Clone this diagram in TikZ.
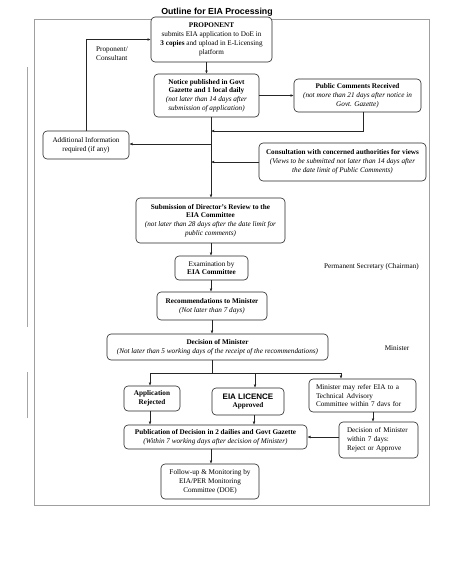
\documentclass[tikz,border=0pt]{standalone}
\usepackage{fontspec}
\setmainfont{Liberation Serif}
\newfontfamily\hsans{Liberation Sans}
\usetikzlibrary{arrows.meta}
\newcommand\eiafs{\fontsize{7.2}{8.8}\selectfont}
\tikzset{
  box/.style={draw=black!85, line width=0.6pt, rounded corners=4pt, fill=white,
    inner sep=0pt, align=center, font=\eiafs},
  arr/.style={-{Latex[length=3.2pt,width=2.8pt]}, line width=0.6pt, draw=black!85},
  ln/.style={line width=0.6pt, draw=black!85},
  lbl/.style={inner sep=0pt, font=\eiafs, align=left}
}
\begin{document}
\begin{tikzpicture}[x=1pt,y=-1pt]
\useasboundingbox (0,0) rectangle (451,584);
% frame and stray scan lines
\draw[gray!75, line width=0.9pt] (34,19) rectangle (429,505);
\draw[gray!70, line width=0.7pt] (27.5,67) -- (27.5,327);
\draw[gray!70, line width=0.7pt] (27.5,372) -- (27.5,418);
% title
\node[inner sep=0pt, font={\hsans\bfseries\fontsize{8.8}{10}\selectfont}] (title) at (217,12.5) {Outline for EIA Processing};
% boxes
\node[box, minimum width=121pt, minimum height=45pt] (prop) at (211.5,39.5)
  {\textbf{PROPONENT}\\submits EIA application to DoE in\\\textbf{3 copies} and upload in E-Licensing\\platform};
\node[box, minimum width=105pt, minimum height=43pt] (notice) at (206.5,95.5)
  {\textbf{Notice published in Govt}\\\textbf{Gazette and 1 local daily}\\\textit{(not later than 14 days after}\\\textit{submission of application)}};
\node[box, minimum width=127pt, minimum height=33pt] (pub) at (357.5,95.5)
  {\textbf{Public Comments Received}\\\textit{(not more than 21 days after notice in}\\\textit{Govt. Gazette)}};
\node[box, minimum width=86pt, minimum height=28pt] (addinfo) at (86,145)
  {Additional Information\\required (if any)};
\node[box, minimum width=167pt, minimum height=38pt] (consult) at (342.5,162)
  {\textbf{Consultation with concerned authorities for views}\\\textit{(Views to be submitted not later than 14 days after}\\\textit{the date limit of Public Comments)}};
\node[box, minimum width=149pt, minimum height=45pt] (director) at (210.5,220.5)
  {\textbf{Submission of Director’s Review to the}\\\textbf{EIA Committee}\\\textit{(not later than 28 days after the date limit for}\\\textit{public comments)}};
\node[box, minimum width=73pt, minimum height=24pt] (exam) at (211.5,268)
  {Examination by\\\textbf{EIA Committee}};
\node[box, minimum width=110pt, minimum height=28pt] (recom) at (212,306)
  {\textbf{Recommendations to Minister}\\\textit{(Not later than 7 days)}};
\node[box, minimum width=221pt, minimum height=26pt] (decision) at (217.5,347)
  {\textbf{Decision of Minister}\\\textit{(Not later than 5 working days of the receipt of the recommendations)}};
\node[box, minimum width=56pt, minimum height=25pt] (rejected) at (152,398.5)
  {\textbf{Application}\\\textbf{Rejected}};
\node[box, minimum width=72pt, minimum height=27pt] (licence) at (248,401.5)
  {{\hsans\bfseries\fontsize{8}{10}\selectfont EIA LICENCE}\\\textbf{Approved}};
\node[box, align=left, inner xsep=7pt, text width=93pt, minimum height=33pt] (refer) at (362.5,395.5)
  {Minister may refer EIA to a\\Technical Advisory\\Committee within 7 davs for};
\node[box, align=left, inner xsep=8pt, text width=63pt, minimum height=36pt] (dec7) at (378.5,440)
  {Decision of Minister\\within 7 days:\\Reject or Approve};
\node[box, minimum width=183pt, minimum height=24pt] (publication) at (215.5,437)
  {\textbf{Publication of Decision in 2 dailies and Govt Gazette}\\\textit{(Within 7 working days after decision of Minister)}};
\node[box, minimum width=98pt, minimum height=35pt] (follow) at (210,481.5)
  {Follow-up \& Monitoring by\\EIA/PER Monitoring\\Committee (DOE)};
% side labels
\node[lbl, anchor=west] (pclabel) at (96,53.5) {Proponent/\\Consultant};
\node[lbl] (pslabel) at (371.5,267) {Permanent Secretary (Chairman)};
\node[lbl] (minlabel) at (397,348) {Minister};
% helper coordinates
\coordinate (mainx) at (211,0);
\coordinate (j1) at (211,131);
\coordinate (j2) at (211,144);
\coordinate (j3) at (211,162);
\coordinate (split) at (212,373);
\coordinate (sl) at (150,373);
\coordinate (sm) at (255,373);
\coordinate (sr) at (341,373);
\coordinate (lx) at (254,0);
\coordinate (rx) at (373,0);
% connectors
\draw[arr] (prop.south -| notice.north) -- (notice.north);
\draw[arr] (notice.east) -- (pub.west);
\draw[arr] ([xshift=5.5pt]pub.south) |- (j1);
\draw[arr] (notice.south -| mainx) -- (director.north -| mainx);
\draw[arr] (j2) -- (addinfo.east |- j2);
\draw[arr] (addinfo.north) |- (prop.west);
\draw[arr] (consult.west |- j3) -- (j3);
\draw[arr] (director.south -| mainx) -- (exam.north -| mainx);
\draw[arr] (exam.south -| mainx) -- (recom.north -| mainx);
\draw[arr] (recom.south) -- (decision.north -| recom.south);
\draw[ln] (decision.south -| split) -- (split);
\draw[ln] (sl) -- (sr);
\draw[arr] (sl) -- (rejected.north -| sl);
\draw[arr] (sm) -- (licence.north -| sm);
\draw[arr] (sr) -- (refer.north -| sr);
\draw[arr] (rejected.south -| sl) -- (publication.north -| sl);
\draw[arr] (licence.south -| lx) -- (publication.north -| lx);
\draw[arr] (refer.south -| rx) -- (dec7.north -| rx);
\draw[arr] (dec7.west |- publication.east) -- (publication.east);
\draw[arr] (publication.south -| mainx) -- (follow.north -| mainx);
\end{tikzpicture}
\end{document}
